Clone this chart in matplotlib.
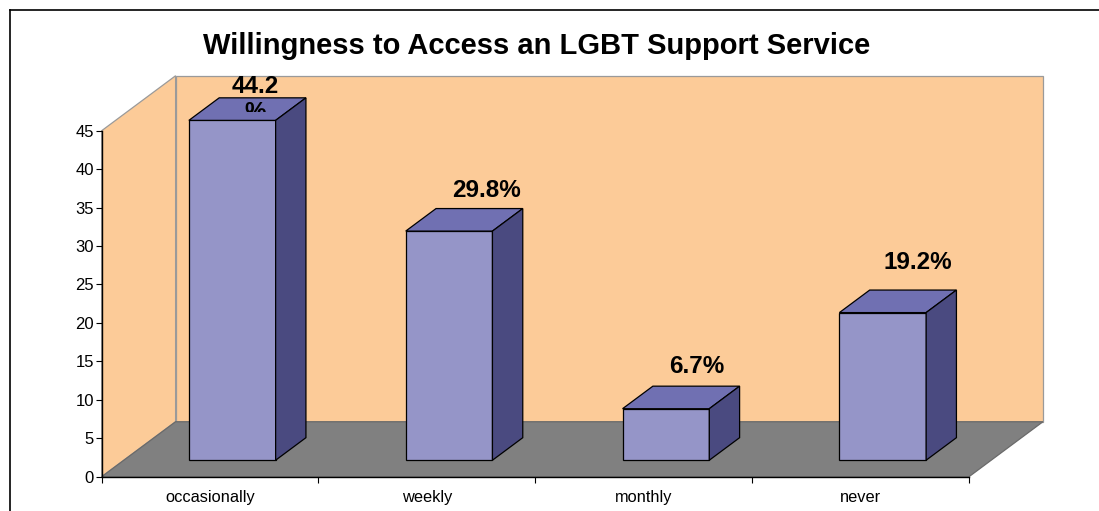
import numpy as np
import matplotlib
matplotlib.use('Agg')
import matplotlib.pyplot as plt
from matplotlib.patches import Polygon
from matplotlib.lines import Line2D
from matplotlib.transforms import Bbox, offset_copy

categories = ['occasionally', 'weekly', 'monthly', 'never']
percent = [44.2, 29.8, 6.7, 19.2]
value_labels = ['44.2%', '29.8%', '6.7%', '19.2%']
y_ticks = list(range(0, 50, 5))

plt.rcParams['font.family'] = ['Liberation Sans', 'DejaVu Sans']

wall_col = '#fccb98'
floor_col = '#808080'
front_col = '#9595c8'
top_col = '#7070b2'
side_col = '#4a4a80'

fig = plt.figure(figsize=(10.99, 5.11), dpi=100)
ax = fig.add_axes([0.0925, 0.0671, 0.7892, 0.6771])
ax.set_xlim(0, 4)
ax.set_ylim(0, 45)
ax.patch.set_visible(False)

# oblique depth of the box (x in categories, y in value units)
DX, DY = 0.341, 7.15
ymax = 45
n = len(categories)


def face(pts, color, edge, z, lw=0.9):
    ax.add_patch(Polygon(pts, closed=True, facecolor=color, edgecolor=edge,
                         linewidth=lw, zorder=z, clip_on=False))


# walls and floor
face([(0, 0), (DX, DY), (DX, ymax + DY), (0, ymax)], wall_col, '#9a9a9a', 0.5)
face([(DX, DY), (n + DX, DY), (n + DX, ymax + DY), (DX, ymax + DY)],
     wall_col, '#9a9a9a', 0.5)
face([(0, 0), (n, 0), (n + DX, DY), (DX, DY)], floor_col, '#6a6a6a', 0.6)

# 3d bars: front face sits 30% into the depth, back face at 71%
f0, f1 = 0.30, 0.71
half = 0.2
for i, v in enumerate(percent):
    xl, xr = i + 0.5 - half, i + 0.5 + half
    ox0, oy0 = f0 * DX, f0 * DY
    ox1, oy1 = f1 * DX, f1 * DY
    face([(xl + ox0, oy0), (xr + ox0, oy0), (xr + ox0, v + oy0), (xl + ox0, v + oy0)],
         front_col, 'black', 2)
    face([(xl + ox0, v + oy0), (xr + ox0, v + oy0), (xr + ox1, v + oy1), (xl + ox1, v + oy1)],
         top_col, 'black', 2)
    face([(xr + ox0, oy0), (xr + ox1, oy1), (xr + ox1, v + oy1), (xr + ox0, v + oy0)],
         side_col, 'black', 2)

# value labels above the back edge of each bar top
nudge = [(-7, -2), (7, 18), (1, 20), (5, 28)]
for i, (v, lab) in enumerate(zip(percent, value_labels)):
    x = i + 0.5 + f1 * DX
    y = v + f1 * DY
    tr = offset_copy(ax.transData, fig=fig, x=nudge[i][0], y=nudge[i][1], units='dots')
    if i == 0:
        # the label wraps onto two lines and the second one gets cut off
        t = ax.text(x, y, lab.replace('%', '\n%'), transform=tr, ha='center',
                    va='center', fontsize=17.5, fontweight='bold', linespacing=1.15,
                    zorder=5, multialignment='center')
        t.set_clip_on(True)
        t.set_clip_box(Bbox([[0, 399], [1099, 511]]))
    else:
        ax.text(x, y, lab, transform=tr, ha='center', va='center',
                fontsize=17.5, fontweight='bold', zorder=5)

# axes
for s in ['top', 'right']:
    ax.spines[s].set_visible(False)
for s in ['left', 'bottom']:
    ax.spines[s].set_linewidth(1.0)
    ax.spines[s].set_zorder(3)
ax.set_yticks(y_ticks)
ax.tick_params(axis='y', direction='out', length=4.5, width=0.8, labelsize=12, pad=1)
ax.set_xticks(np.arange(n + 1))
ax.set_xticklabels([])
ax.tick_params(axis='x', which='major', direction='out', length=4, width=0.8)
ax.set_xticks(np.arange(n) + 0.5, minor=True)
ax.set_xticklabels(categories, minor=True)
ax.tick_params(axis='x', which='minor', length=0, labelsize=11.8, pad=9.5)

fig.text(537 / 1099, 1 - 46 / 511, 'Willingness to Access an LGBT Support Service',
         ha='center', va='center', fontsize=21, fontweight='bold')

# outer frame of the chart area
fig.add_artist(Line2D([10 / 1099, 1], [1 - 10 / 511] * 2, transform=fig.transFigure,
                      color='black', linewidth=1.2))
fig.add_artist(Line2D([10 / 1099] * 2, [0, 1 - 10 / 511], transform=fig.transFigure,
                      color='black', linewidth=1.2))

fig.savefig('out.png', dpi=100)
